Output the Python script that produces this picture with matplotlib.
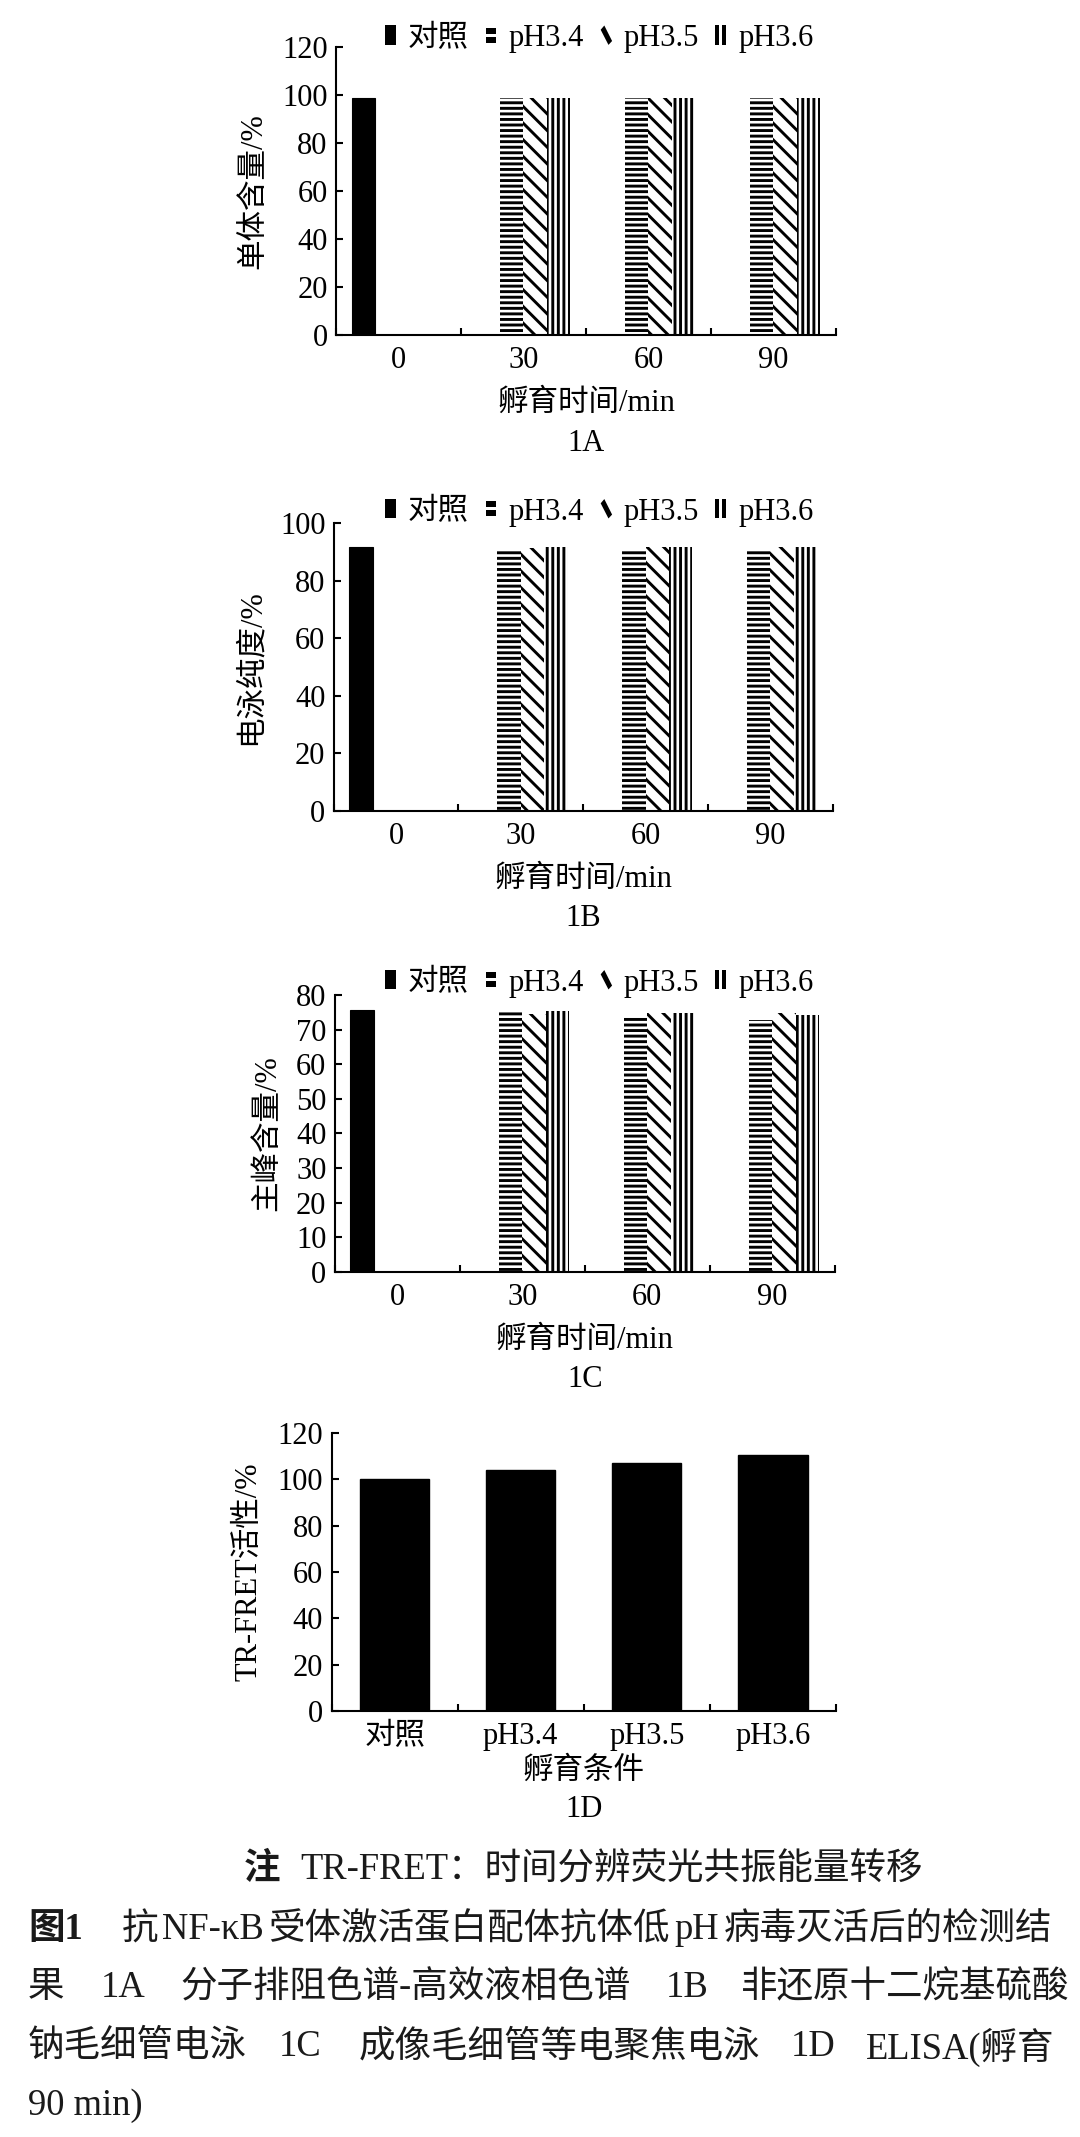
import numpy as np
import matplotlib
matplotlib.use('Agg')
import matplotlib.pyplot as plt
from matplotlib.patches import Patch, Rectangle, Polygon
from matplotlib.legend_handler import HandlerBase

plt.rcParams['font.family'] = ['Liberation Serif', 'Noto Sans CJK SC']
plt.rcParams['hatch.linewidth'] = 2.1
plt.rcParams['hatch.color'] = 'black'

# data
times = ['0', '30', '60', '90']
groups = ['对照', 'pH3.4', 'pH3.5', 'pH3.6']

ctrl_a = [98.6, 0, 0, 0]
ph34_a = [0, 98.6, 98.6, 98.6]
ph35_a = [0, 98.6, 98.6, 98.6]
ph36_a = [0, 98.6, 98.6, 98.6]

ctrl_b = [91.6, 0, 0, 0]
ph34_b = [0, 90.7, 90.7, 90.7]
ph35_b = [0, 91.3, 91.5, 91.6]
ph36_b = [0, 91.6, 91.6, 91.6]

ctrl_c = [75.7, 0, 0, 0]
ph34_c = [0, 75.5, 73.7, 72.8]
ph35_c = [0, 74.5, 74.9, 74.7]
ph36_c = [0, 75.4, 74.7, 74.2]

elisa = [100, 104, 107, 110.5]

hatches = [None, '---', '\\\\', '|||']
marks = ['solid', 'h', 'd', 'v']
FS = 22

fig = plt.figure(figsize=(10.8, 21.37), dpi=100)


class MarkHandler(HandlerBase):
    # little legend symbols: block, "=", "\" and "||"
    def __init__(self, kind):
        super().__init__()
        self.kind = kind

    def create_artists(self, legend, orig_handle, xdescent, ydescent,
                       width, height, fontsize, trans):
        x0, y0, w, h = -xdescent, -ydescent, width, height
        if self.kind == 'solid':
            arts = [Rectangle((x0, y0), w, h)]
        elif self.kind == 'h':
            arts = [Rectangle((x0, y0 + 0.12 * h), w, 0.3 * h),
                    Rectangle((x0, y0 + 0.58 * h), w, 0.3 * h)]
        elif self.kind == 'v':
            arts = [Rectangle((x0, y0), 0.36 * w, h),
                    Rectangle((x0 + 0.64 * w, y0), 0.36 * w, h)]
        else:
            arts = [Polygon([(x0, y0 + 0.78 * h), (x0 + 0.35 * w, y0 + h),
                             (x0 + 1.1 * w, y0 + 0.2 * h), (x0 + 0.75 * w, y0)])]
        for a in arts:
            a.set_facecolor('black')
            a.set_linewidth(0)
            a.set_transform(trans)
        return arts


def style_axis(ax, ymax, ystep):
    for s in ['top', 'right']:
        ax.spines[s].set_visible(False)
    for s in ['left', 'bottom']:
        ax.spines[s].set_linewidth(1.5)
    ax.set_xlim(-0.5, 3.5)
    ax.set_ylim(0, ymax)
    ax.set_yticks(np.arange(0, ymax + 1, ystep))
    # tick marks between categories, labels at the centres
    ax.set_xticks(np.arange(-0.5, 4.0, 1.0))
    ax.set_xticklabels([])
    ax.set_xticks(np.arange(4), minor=True)
    ax.tick_params(axis='both', which='major', direction='in', length=5, width=1.5,
                   labelsize=FS, pad=6)
    ax.tick_params(axis='x', which='minor', length=0, labelsize=FS, pad=8)


def grouped_panel(rect, series, ymax, ystep, ylabel, tag, leg_y):
    ax = fig.add_axes(rect)
    x = np.arange(len(times))
    w = 0.1875
    offs = [-1.5, -0.5, 0.5, 1.5]
    for vals, h, o in zip(series, hatches, offs):
        if h is None:
            ax.bar(x + o * w, vals, w, color='black', edgecolor='black', linewidth=0.8)
        else:
            ax.bar(x + o * w, vals, w, color='white', edgecolor='black', linewidth=0, hatch=h)
    style_axis(ax, ymax, ystep)
    ax.set_xticklabels(times, minor=True)
    ax.set_ylabel(ylabel, fontsize=FS, labelpad=10)
    ax.set_xlabel('孵育时间/min', fontsize=FS, labelpad=10)
    handles = [Patch(label=g) for g in groups]
    hmap = {hd: MarkHandler(k) for hd, k in zip(handles, marks)}
    ax.legend(handles=handles, handler_map=hmap, loc='center', bbox_to_anchor=(0.555, leg_y),
              bbox_transform=fig.transFigure, ncol=4, frameon=False, fontsize=FS,
              handlelength=0.34, handleheight=0.6, handletextpad=0.4,
              columnspacing=0.55, borderpad=0)
    fig.text(rect[0] + rect[2] / 2, rect[1] - 0.0505, tag, fontsize=FS,
             ha='center', va='center')
    return ax


grouped_panel([0.311, 0.8432, 0.463, 0.1348], [ctrl_a, ph34_a, ph35_a, ph36_a],
              120, 20, '单体含量/%', '1A', 0.982)
grouped_panel([0.309, 0.6205, 0.462, 0.1348], [ctrl_b, ph34_b, ph35_b, ph36_b],
              100, 20, '电泳纯度/%', '1B', 0.7604)
grouped_panel([0.310, 0.4048, 0.463, 0.1296], [ctrl_c, ph34_c, ph35_c, ph36_c],
              80, 10, '主峰含量/%', '1C', 0.540)

# 1D
axd = fig.add_axes([0.307, 0.1994, 0.467, 0.1301])
axd.bar(np.arange(4), elisa, 0.55, color='black', edgecolor='black')
style_axis(axd, 120, 20)
axd.set_xticklabels(groups, minor=True)
axd.set_ylabel('TR-FRET活性/%', fontsize=FS, labelpad=10)
axd.set_xlabel('孵育条件', fontsize=FS, labelpad=4)
fig.text(0.307 + 0.467 / 2, 0.1994 - 0.046, '1D', fontsize=FS, ha='center', va='center')

# notes and caption
CF = 26.3
tc = '#1a1a1a'
fig.text(244 / 1080, 1 - 1870 / 2137, '注', fontsize=CF, fontweight='bold', color=tc, va='center')
fig.text(300 / 1080, 1 - 1870 / 2137, 'TR-FRET：时间分辨荧光共振能量转移', fontsize=CF, color=tc, va='center')

caption = [
    (1930, [(28, '图1', True), (122, '抗', False), (162, 'NF-κB', False),
            (268, '受体激活蛋白配体抗体低', False), (674, 'pH', False),
            (724, '病毒灭活后的检测结', False)]),
    (1988, [(28, '果', False), (101, '1A', False), (180, '分子排阻色谱-高效液相色谱', False),
            (666, '1B', False), (741, '非还原十二烷基硫酸', False)]),
    (2047, [(28, '钠毛细管电泳', False), (279, '1C', False), (359, '成像毛细管等电聚焦电泳', False),
            (791, '1D', False), (866, 'ELISA(孵育', False)]),
    (2106, [(28, '90 min)', False)]),
]
for y, parts in caption:
    for x, s, b in parts:
        fig.text(x / 1080, 1 - y / 2137, s, fontsize=CF, color=tc, va='center',
                 fontweight='bold' if b else 'normal')

plt.savefig('out.png', dpi=100)
